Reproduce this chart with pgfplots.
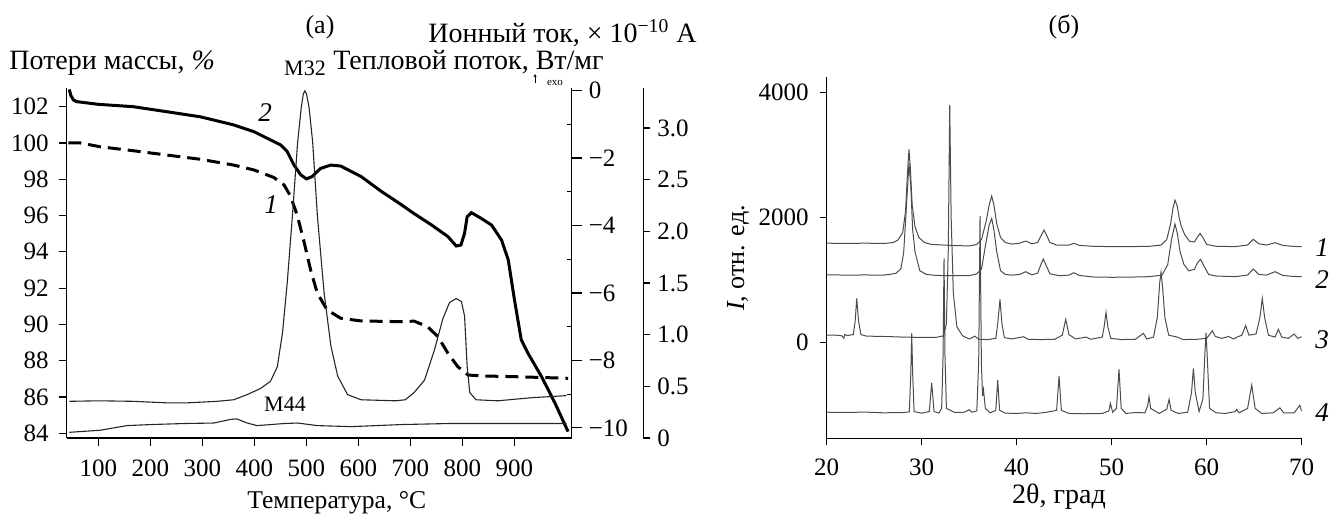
\documentclass[border=0pt]{standalone}
\usepackage{fontspec}
\setmainfont{Liberation Serif}
\usepackage{pgfplots}
\pgfplotsset{compat=1.18}
\usetikzlibrary{arrows.meta}
\newcommand{\fs}{\fontsize{12.5}{14}\selectfont}
\newcommand{\fl}{\fontsize{14}{16}\selectfont}
\begin{document}
\begin{tikzpicture}[font=\fs]
\useasboundingbox (0,0) rectangle (666.5pt,-257pt);
\pgfplotsset{
  every axis/.append style={scale only axis, axis line style={line width=0.6pt,black}, tick style={line width=0.6pt,black},
    every tick label/.append style={font=\fs}},
}
% ---------- left panel: mass loss ----------
\begin{axis}[at={(33.35pt,-219pt)}, anchor=south west, width=252.5pt, height=174.85pt,
  xmin=39, xmax=1010, ymin=83.74, ymax=103.01,
  axis x line*=bottom, axis y line*=left,
  xtick={100,200,300,400,500,600,700,800,900}, xticklabels={100,200,300,400,500,600,700,800,900},
  ytick={84,86,88,90,92,94,96,98,100,102}, yticklabels={84,86,88,90,92,94,96,98,100,102},
  tick align=outside, major tick length=4pt,
  x tick label style={yshift=-3.5pt}, y tick label style={xshift=-1.5pt}]
\addplot[black, line width=1.5pt, dash pattern=on 6.5pt off 3.5pt] coordinates {
(42,100.0) (65,100.0) (103,99.79) (167,99.57) (232,99.33) (296,99.10) (360,98.78) (399,98.51) (437,98.10) (457,97.68) (470,97.04) (483,95.93) (496,94.47) (508,93.0) (521,91.71) (540,90.79) (566,90.34) (605,90.19) (682,90.15) (707,90.18) (733,89.87) (753,89.32) (772,88.41) (791,87.67) (811,87.21) (836,87.16) (900,87.12) (1003,87.03)};
\end{axis}
% ---------- left panel: heat flow ----------
\begin{axis}[at={(33.35pt,-219pt)}, anchor=south west, width=252.5pt, height=174.85pt,
  xmin=39, xmax=1010, ymin=-10.3, ymax=0.065,
  axis x line=none, axis y line*=right,
  ytick={-10,-8,-6,-4,-2,0}, yticklabels={−10,−8,−6,−4,−2,0},
  tick align=outside, major tick length=5pt,
  extra y ticks={-9,-7,-5,-3,-1}, extra y tick labels={},
  extra y tick style={major tick length=2.5pt, ytick style={xshift=-2.5pt}}]
\addplot[black, line width=1.5pt] coordinates {
(44,0.03) (47,-0.15) (52,-0.28) (58,-0.33) (100,-0.41) (167,-0.48) (232,-0.63) (296,-0.78) (360,-1.02) (399,-1.22) (425,-1.42) (450,-1.61) (463,-1.81) (476,-2.21) (489,-2.50) (500,-2.62) (511,-2.55) (527,-2.31) (547,-2.21) (566,-2.24) (605,-2.55) (643,-2.98) (682,-3.38) (707,-3.65) (740,-3.98) (772,-4.33) (788,-4.61) (797,-4.58) (804,-4.23) (809,-3.74) (817,-3.62) (836,-3.79) (856,-3.99) (875,-4.43) (888,-5.02) (900,-6.21) (913,-7.39) (926,-7.79) (952,-8.48) (978,-9.27) (1003,-10.11)};
\end{axis}
% ---------- left panel: ion current ----------
\begin{axis}[at={(33.35pt,-219pt)}, anchor=south west, width=252.5pt, height=174.85pt,
  xmin=39, xmax=1010, ymin=0, ymax=3.384,
  axis x line=none, axis y line*=right,
  ytick={0,0.5,1,1.5,2,2.5,3}, yticklabels={0,0.5,1.0,1.5,2.0,2.5,3.0},
  tick align=outside, major tick length=3.5pt,
  y axis line style={xshift=35.8pt}, ytick style={xshift=35.8pt}, yticklabel style={xshift=35.8pt}]
\addplot[black!85, line width=0.55pt] coordinates {
(44,0.355) (100,0.36) (167,0.355) (232,0.34) (270,0.34) (328,0.355) (360,0.37) (386,0.42) (412,0.48) (431,0.55) (444,0.69) (454,1.02) (463,1.50) (473,2.15) (483,2.86) (490,3.2) (494,3.33) (497,3.36) (500,3.33) (505,3.2) (512,2.86) (521,2.15) (534,1.40) (547,0.89) (560,0.60) (579,0.42) (605,0.37) (672,0.36) (690,0.37) (707,0.44) (727,0.56) (746,0.85) (762,1.15) (775,1.31) (788,1.35) (798,1.32) (804,1.18) (809,0.69) (814,0.44) (826,0.37) (868,0.36) (933,0.39) (1000,0.41)};
\addplot[black!85, line width=0.55pt] coordinates {
(44,0.055) (103,0.075) (155,0.12) (200,0.13) (264,0.14) (322,0.145) (354,0.18) (366,0.185) (386,0.145) (405,0.12) (457,0.14) (483,0.145) (521,0.12) (586,0.11) (682,0.13) (772,0.14) (1000,0.14)};
\end{axis}
% ---------- right panel: XRD ----------
\begin{axis}[at={(413.35pt,-219.15pt)}, anchor=south west, width=237.5pt, height=180.8pt,
  xmin=20, xmax=70, ymin=-1527, ymax=4249,
  axis x line*=bottom, axis y line*=left,
  xtick={20,30,40,50,60,70}, xticklabels={20,30,40,50,60,70},
  ytick={0,2000,4000}, yticklabels={0,2000,4000},
  tick align=outside, major tick length=3.5pt,
  x tick label style={yshift=-3pt}, y tick label style={xshift=-2pt}]
\addplot[black!70, line width=0.5pt] coordinates {
(20,1590) (22,1585) (24,1590) (26,1585) (27,1600) (27.5,1640) (28,1760) (28.3,2100) (28.5,2700) (28.66,3088) (28.8,2800) (29.0,2200) (29.3,1850) (29.7,1680) (30.3,1600) (31,1570) (33,1555) (35,1545) (35.8,1570) (36.3,1650) (36.8,1950) (37.1,2200) (37.37,2343) (37.6,2200) (37.9,1900) (38.3,1680) (38.8,1600) (39.5,1575) (40.3,1590) (40.95,1624) (41.6,1580) (42.2,1600) (42.6,1720) (42.87,1800) (43.1,1730) (43.5,1600) (44.2,1560) (45.5,1560) (46.03,1587) (46.6,1555) (48,1540) (50,1535) (52,1535) (54,1540) (55.2,1560) (55.8,1650) (56.2,1900) (56.45,2150) (56.66,2279) (56.9,2180) (57.1,2000) (57.3,1870) (57.7,1720) (58.2,1620) (58.7,1610) (59.0,1680) (59.3,1747) (59.6,1680) (60.0,1570) (61,1540) (63,1535) (64.3,1560) (64.9,1651) (65.5,1580) (66.3,1560) (67.2,1597) (68,1555) (69,1540) (70,1533)};
\addplot[black!70, line width=0.5pt] coordinates {
(20,1085) (22,1080) (24,1082) (26,1080) (26.8,1095) (27.3,1110) (27.8,1180) (28.1,1432) (28.4,2200) (28.66,2865) (28.85,2500) (29.05,1800) (29.3,1450) (29.8,1150) (30.5,1090) (31.5,1075) (33,1070) (35,1070) (35.8,1100) (36.3,1180) (36.8,1630) (37.1,1880) (37.37,1986) (37.6,1800) (37.9,1450) (38.3,1150) (38.8,1090) (39.5,1080) (40.3,1090) (40.95,1134) (41.6,1085) (42.2,1110) (42.55,1250) (42.8,1337) (43.05,1250) (43.5,1100) (44.5,1070) (45.5,1080) (46.0,1118) (46.6,1075) (48,1050) (50,1045) (52,1048) (54,1055) (55.3,1080) (55.9,1250) (56.3,1650) (56.66,1896) (56.9,1750) (57.2,1450) (57.6,1250) (58.1,1150) (58.7,1170) (59.05,1280) (59.35,1332) (59.7,1230) (60.2,1090) (61,1065) (63,1055) (64.3,1080) (64.9,1177) (65.5,1090) (66.3,1080) (67.2,1134) (68,1075) (69,1060) (70,1054)};
\addplot[black!70, line width=0.5pt] coordinates {
(20,123) (21,120) (21.6,110) (21.8,70) (21.9,130) (22.2,115) (22.8,130) (23.0,350) (23.16,709) (23.35,350) (23.6,130) (24.2,105) (26,100) (28,90) (30,85) (31.5,85) (32.3,110) (32.6,300) (32.8,1500) (32.95,3796) (33.1,2000) (33.33,789) (33.7,255) (34.3,110) (35.0,60) (35.6,105) (36.0,55) (37,50) (37.8,70) (38.0,300) (38.24,693) (38.45,300) (38.7,80) (39.5,60) (40.7,96) (41.2,55) (42.5,50) (44,55) (44.8,120) (45.16,373) (45.5,130) (46.2,60) (47.3,90) (47.8,55) (49.0,90) (49.2,250) (49.4,485) (49.6,250) (49.9,70) (51,50) (52.5,55) (53.33,150) (53.7,60) (54.4,90) (54.8,400) (55.05,950) (55.19,1124) (55.35,900) (55.6,400) (56.0,120) (56.9,90) (57.5,50) (59,55) (60.0,70) (60.3,130) (60.6,192) (60.9,100) (61.6,70) (62.3,100) (62.8,60) (63.2,90) (63.7,120) (64.1,273) (64.45,120) (65.2,140) (65.6,400) (65.85,709) (66.1,400) (66.5,120) (67.2,90) (67.54,214) (67.9,90) (68.6,70) (69.2,139) (69.6,70) (70,96)};
\addplot[black!70, line width=0.5pt] coordinates {
(20,-1110) (22,-1115) (24,-1108) (26,-1120) (28,-1115) (28.7,-1105) (28.85,-500) (28.95,150) (29.05,-500) (29.2,-1100) (30,-1125) (30.8,-1100) (31.05,-639) (31.3,-1100) (31.8,-1125) (32.1,-1050) (32.25,-200) (32.35,1348) (32.45,-200) (32.6,-1050) (33.5,-1115) (34.5,-1110) (35.0,-1070) (35.3,-1110) (35.8,-1090) (36.0,-300) (36.14,2023) (36.28,-300) (36.4,-850) (36.5,-745) (36.7,-1050) (37.2,-1120) (37.8,-1080) (38.0,-596) (38.2,-1080) (38.8,-1125) (40,-1130) (41,-1120) (42,-1130) (43,-1115) (44.2,-1080) (44.46,-532) (44.7,-1080) (45.5,-1130) (47,-1135) (49,-1130) (49.7,-1090) (49.86,-968) (50.1,-1110) (50.5,-1050) (50.77,-425) (51.0,-1050) (51.5,-1130) (52.5,-1115) (53.5,-1120) (53.8,-1000) (53.93,-862) (54.1,-1050) (55,-1130) (55.8,-1060) (56.04,-904) (56.25,-1080) (57,-1130) (58,-1110) (58.4,-800) (58.6,-409) (58.8,-800) (59.2,-1100) (59.6,-900) (59.8,-200) (59.93,160) (60.05,-200) (60.3,-1050) (61,-1120) (62,-1130) (63,-1100) (63.16,-1064) (63.4,-1120) (64.3,-1050) (64.74,-676) (65.1,-1050) (65.8,-1130) (67,-1120) (67.7,-1040) (68.1,-1120) (69.2,-1120) (69.8,-1000) (70,-1100)};
\end{axis}
% ---------- texts ----------
\node[font=\fontsize{13}{15}\selectfont] at (160pt,-13.5pt) {(а)};
\node[font=\fontsize{13}{15}\selectfont] at (532pt,-13.5pt) {(б)};
\node[anchor=west,inner sep=0pt,font=\fl] at (214pt,-16.5pt) {Ионный ток, × 10\textsuperscript{−10}~А};
\node[font=\fl] at (234.25pt,-31pt) {Тепловой поток, Вт/мг};
\node[anchor=west,inner sep=0pt,font=\fl] at (4.5pt,-31.5pt) {Потери массы, \textit{\%}};
\node[font=\fontsize{11}{12}\selectfont] at (152.5pt,-34pt) {М32};
\node[font=\fontsize{11}{12}\selectfont] at (142.5pt,-202pt) {М44};
\node[font=\fontsize{5.5}{6}\selectfont] at (277.5pt,-41.5pt) {exo};
\draw[-{Stealth[length=1.6pt,width=1.6pt]}, line width=0.4pt] (267.5pt,-41.5pt) -- (267.5pt,-37pt);
\node[font=\fontsize{13.5}{15}\selectfont\itshape] at (132.5pt,-56.5pt) {2};
\node[font=\fontsize{13.5}{15}\selectfont\itshape] at (135.5pt,-102.5pt) {1};
\node[anchor=west,inner sep=0pt,font=\fontsize{12.8}{15}\selectfont] at (123.5pt,-251.5pt) {Температура, °C};
\node[font=\fl] at (529.5pt,-248.25pt) {2θ, град};
\node[rotate=90,font=\fontsize{13}{15}\selectfont] at (369pt,-129pt) {\textit{I}, отн. ед.};
\node[font=\fontsize{13.5}{15}\selectfont\itshape] at (661pt,-124pt) {1};
\node[font=\fontsize{13.5}{15}\selectfont\itshape] at (661pt,-140pt) {2};
\node[font=\fontsize{13.5}{15}\selectfont\itshape] at (661pt,-170pt) {3};
\node[font=\fontsize{13.5}{15}\selectfont\itshape] at (661pt,-206.5pt) {4};
\end{tikzpicture}
\end{document}
